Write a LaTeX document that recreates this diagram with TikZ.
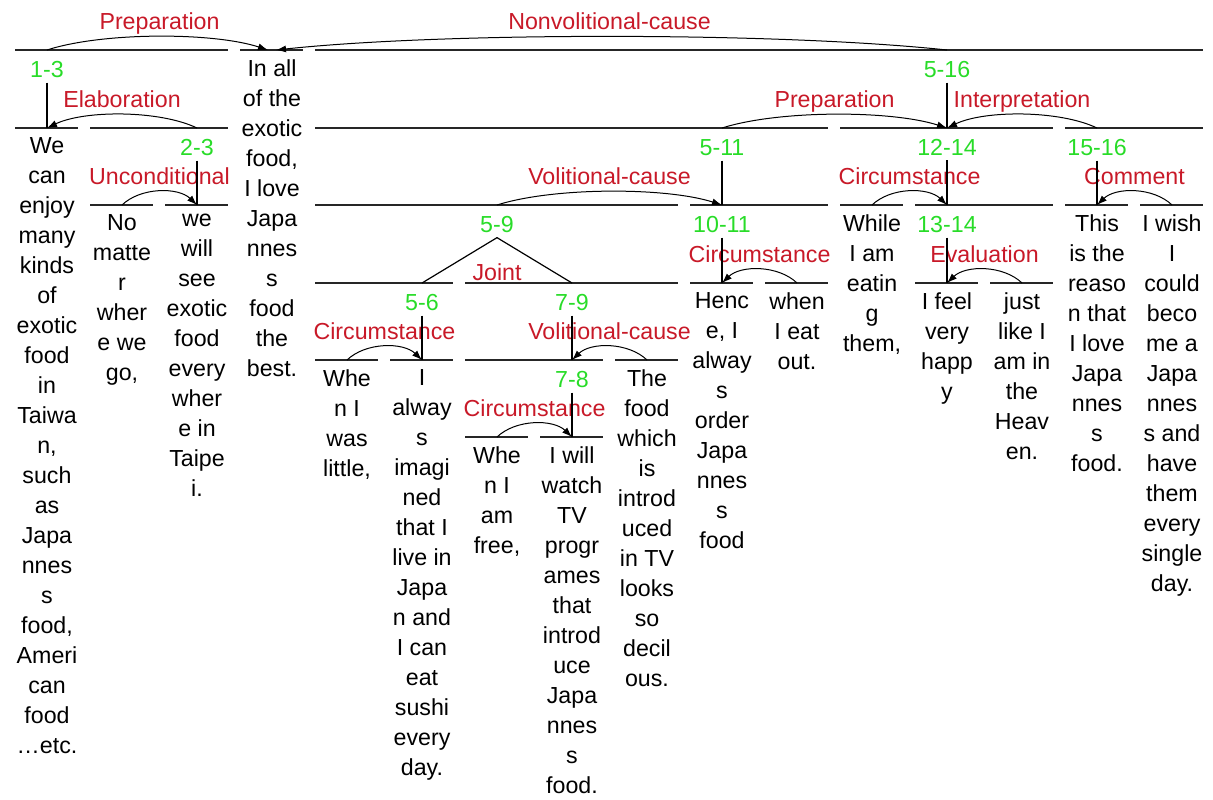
\documentclass[tikz,border=0pt]{standalone}
\usepackage{fontspec}
\setmainfont{Liberation Sans}
\usetikzlibrary{calc}
\usetikzlibrary{arrows.meta}
\definecolor{relred}{RGB}{200,25,40}
\definecolor{spangreen}{RGB}{40,220,40}
\tikzset{
    Edu/.style = {align=center, anchor=north, inner sep=0pt, execute at begin node=\strut}
}
\tikzset{
    Span/.style = {draw=black!85, line width=0.8pt},
    Stem/.style = {draw=black, line width=0.6pt}
}
\tikzset{
    Arc/.style = {draw=black, line width=0.5pt, -{Latex[length=5pt,width=3.5pt]},
        to path={.. controls ($(\tikztostart)!0.25!(\tikztotarget)+(0,-18)$)
            and ($(\tikztostart)!0.75!(\tikztotarget)+(0,-18)$) .. (\tikztotarget) \tikztonodes}}
}

\begin{document}
\begin{tikzpicture}[
    x=0.5pt, y=-0.5pt,
    font=\fontsize{11.6}{15}\selectfont
]
\tikzset{
    Lab/.style = {text=spangreen, anchor=base, inner sep=2.5pt},
    Rel/.style = {text=relred, anchor=base, inner sep=1pt}
}
\useasboundingbox (0,0) rectangle (1213,799);

\draw[Span] (15,50) -- (228,50);
\draw[Span] (240,50) -- (303,50);
\draw[Span] (315,50) -- (1203,50);
\draw[Span] (15,128) -- (78,128);
\draw[Span] (90,128) -- (228,128);
\draw[Span] (315,128) -- (828,128);
\draw[Span] (840,128) -- (1053,128);
\draw[Span] (1065,128) -- (1203,128);
\draw[Span] (90,205) -- (153,205);
\draw[Span] (165,205) -- (228,205);
\draw[Span] (315,205) -- (678,205);
\draw[Span] (690,205) -- (828,205);
\draw[Span] (840,205) -- (903,205);
\draw[Span] (915,205) -- (1053,205);
\draw[Span] (1065,205) -- (1128,205);
\draw[Span] (1140,205) -- (1203,205);
\draw[Span] (315,283) -- (453,283);
\draw[Span] (465,283) -- (678,283);
\draw[Span] (690,283) -- (753,283);
\draw[Span] (765,283) -- (828,283);
\draw[Span] (915,283) -- (978,283);
\draw[Span] (990,283) -- (1053,283);
\draw[Span] (315,360) -- (378,360);
\draw[Span] (390,360) -- (453,360);
\draw[Span] (465,360) -- (603,360);
\draw[Span] (615,360) -- (678,360);
\draw[Span] (465,437) -- (528,437);
\draw[Span] (540,437) -- (603,437);

\coordinate (p1x3) at (47,50);
\coordinate (p4a) at (268,50);
\coordinate (p4b) at (276,50);
\coordinate (p5x16) at (947,50);
\coordinate (p1) at (47,128);
\coordinate (p2x3) at (197,128);
\coordinate (p5x11) at (722,128);
\coordinate (p12x14) at (947,128);
\coordinate (p15x16) at (1097,128);
\coordinate (p2) at (122,205);
\coordinate (p3) at (197,205);
\coordinate (p5x9) at (497,205);
\coordinate (p10x11) at (722,205);
\coordinate (p12) at (872,205);
\coordinate (p13x14) at (947,205);
\coordinate (p15) at (1097,205);
\coordinate (p16) at (1172,205);
\coordinate (p5x6) at (422,283);
\coordinate (p7x9) at (572,283);
\coordinate (p10) at (722,283);
\coordinate (p11) at (797,283);
\coordinate (p13) at (947,283);
\coordinate (p14) at (1022,283);
\coordinate (p5) at (347,360);
\coordinate (p6) at (422,360);
\coordinate (p7x8) at (572,360);
\coordinate (p9) at (647,360);
\coordinate (p7) at (497,437);
\coordinate (p8) at (572,437);

\node[Lab] (l1x3) at (47,77) {1-3};
\node[Lab] (l5x16) at (947,77) {5-16};
\node[Lab] (l2x3) at (197,155) {2-3};
\node[Lab] (l5x11) at (722,155) {5-11};
\node[Lab] (l12x14) at (947,155) {12-14};
\node[Lab] (l15x16) at (1097,155) {15-16};
\node[Lab] (l5x9) at (497,232) {5-9};
\node[Lab] (l10x11) at (722,232) {10-11};
\node[Lab] (l13x14) at (947,232) {13-14};
\node[Lab] (l5x6) at (422,310) {5-6};
\node[Lab] (l7x9) at (572,310) {7-9};
\node[Lab] (l7x8) at (572,387) {7-8};

\node[Rel] (rprep) at (159.5,29) {Preparation};
\node[Rel] (rnvol) at (609.5,29) {Nonvolitional-cause};
\node[Rel] (relab) at (122,107) {Elaboration};
\node[Rel] (rprepb) at (834.5,107) {Preparation};
\node[Rel] (rinter) at (1022,107) {Interpretation};
\node[Rel] (runcond) at (159.5,184) {Unconditional};
\node[Rel] (rvol) at (609.5,184) {Volitional-cause};
\node[Rel] (rcirc) at (909.5,184) {Circumstance};
\node[Rel] (rcomm) at (1134.5,184) {Comment};
\node[Rel] (rcircb) at (759.5,262) {Circumstance};
\node[Rel] (reval) at (984.5,262) {Evaluation};
\node[Rel] (rjoint) at (497,280) {Joint};
\node[Rel] (rcircc) at (384.5,339) {Circumstance};
\node[Rel] (rvolb) at (609.5,339) {Volitional-cause};
\node[Rel] (rcircd) at (534.5,416) {Circumstance};

\node[Edu] (e1) at (47,137) {We\\can\\enjoy\\many\\kinds\\of\\exotic\\food\\in\\Taiwa\\n,\\such\\as\\Japa\\nnes\\s\\food,\\Ameri\\can\\food\\…etc.};
\node[Edu] (e2) at (122,214) {No\\matte\\r\\wher\\e we\\go,};
\node[Edu] (e3) at (197,214) {we\\will\\see\\exotic\\food\\every\\wher\\e in\\Taipe\\i.};
\node[Edu] (e4) at (272,59) {In all\\of the\\exotic\\food,\\I love\\Japa\\nnes\\s\\food\\the\\best.};
\node[Edu] (e5) at (347,369) {Whe\\n I\\was\\little,};
\node[Edu] (e6) at (422,369) {I\\alway\\s\\imagi\\ned\\that I\\live in\\Japa\\n and\\I can\\eat\\sushi\\every\\day.};
\node[Edu] (e7) at (497,446) {Whe\\n I\\am\\free,};
\node[Edu] (e8) at (572,446) {I will\\watch\\TV\\progr\\ames\\that\\introd\\uce\\Japa\\nnes\\s\\food.};
\node[Edu] (e9) at (647,369) {The\\food\\which\\is\\introd\\uced\\in TV\\looks\\so\\decil\\ous.};
\node[Edu] (e10) at (722,292) {Henc\\e, I\\alway\\s\\order\\Japa\\nnes\\s\\food};
\node[Edu] (e11) at (797,292) {when\\I eat\\out.};
\node[Edu] (e12) at (872,214) {While\\I am\\eatin\\g\\them,};
\node[Edu] (e13) at (947,292) {I feel\\very\\happ\\y};
\node[Edu] (e14) at (1022,292) {just\\like I\\am in\\the\\Heav\\en.};
\node[Edu] (e15) at (1097,214) {This\\is the\\reaso\\n that\\I love\\Japa\\nnes\\s\\food.};
\node[Edu] (e16) at (1172,214) {I wish\\I\\could\\beco\\me a\\Japa\\nnes\\s and\\have\\them\\every\\single\\day.};

\draw[Stem] (l1x3.south) -- (p1);
\draw[Stem] (l5x16.south) -- (p12x14);
\draw[Stem] (l2x3.south) -- (p3);
\draw[Stem] (l5x11.south) -- (p10x11);
\draw[Stem] (l12x14.south) -- (p13x14);
\draw[Stem] (l15x16.south) -- (p15);
\draw[Stem] (l10x11.south) -- (p10);
\draw[Stem] (l13x14.south) -- (p13);
\draw[Stem] (l5x6.south) -- (p6);
\draw[Stem] (l7x9.south) -- (p7x8);
\draw[Stem] (l7x8.south) -- (p8);
\draw[Stem] (l5x9.south) -- (p5x6);
\draw[Stem] (l5x9.south) -- (p7x9);

\path (p1x3) edge[Arc] (p4a);
\path (p5x16) edge[Arc] (p4b);
\path (p2x3) edge[Arc] (p1);
\path (p5x11) edge[Arc] (p12x14);
\path (p15x16) edge[Arc] (p12x14);
\path (p2) edge[Arc] (p3);
\path (p5x9) edge[Arc] (p10x11);
\path (p12) edge[Arc] (p13x14);
\path (p16) edge[Arc] (p15);
\path (p11) edge[Arc] (p10);
\path (p14) edge[Arc] (p13);
\path (p5) edge[Arc] (p6);
\path (p9) edge[Arc] (p7x8);
\path (p7) edge[Arc] (p8);
\end{tikzpicture}
\end{document}
